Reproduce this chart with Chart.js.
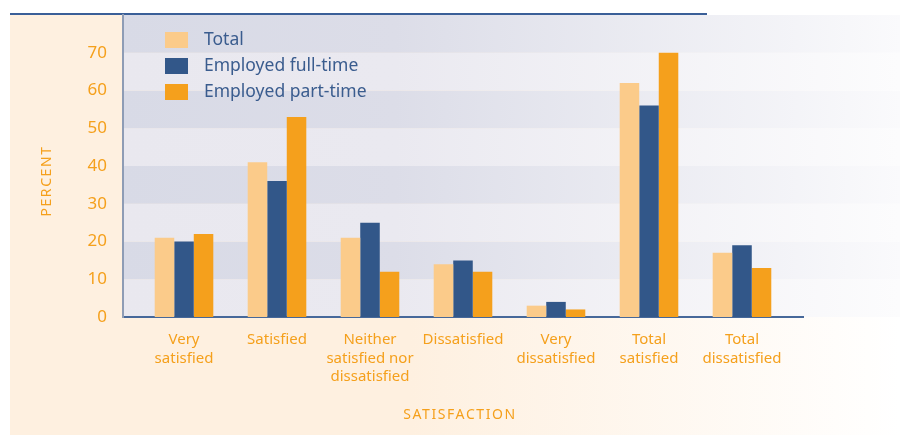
<!DOCTYPE html>
<html>
<head>
<meta charset="utf-8">
<script src="https://cdn.jsdelivr.net/npm/chart.js@4.4.1/dist/chart.umd.min.js"></script>
<style>
  html, body { margin: 0; padding: 0; background: #fff; }
  #wrap { width: 900px; height: 435px; }
</style>
</head>
<body>
<div id="wrap"><canvas id="c" width="900" height="435"></canvas></div>
<script>
// data
const categories = [
  ["Very", "satisfied"],
  "Satisfied",
  ["Neither", "satisfied nor", "dissatisfied"],
  "Dissatisfied",
  ["Very", "dissatisfied"],
  ["Total", "satisfied"],
  ["Total", "dissatisfied"]
];
const seriesNames = ["Total", "Employed full-time", "Employed part-time"];
const totalValues = [21, 41, 21, 14, 3, 62, 17];
const fullTimeValues = [20, 36, 25, 15, 4, 56, 19];
const partTimeValues = [22, 53, 12, 12, 2, 70, 13];
const yTicks = [0, 10, 20, 30, 40, 50, 60, 70];

const ORANGE = "#F5A01C";
const NAVY = "#3A5C8E";
const FONT = "'Noto Sans', sans-serif";

// background panels, bands, top rule, legend and axis titles
const decor = {
  id: "decor",
  beforeDraw(chart) {
    const { ctx, chartArea: a, width, height } = chart;
    const y = chart.scales.y;
    ctx.save();
    ctx.fillStyle = "#fff";
    ctx.fillRect(0, 0, width, height);

    // peach panel, fading out to the right
    let g = ctx.createLinearGradient(10, 0, width, 0);
    g.addColorStop(0, "#FEF0E0");
    g.addColorStop(0.45, "#FEF0E0");
    g.addColorStop(1, "#FFFFFF");
    ctx.fillStyle = g;
    ctx.fillRect(10, a.top, width - 10, height - a.top);

    // alternating bands behind the plot
    for (let v = 0; v < 80; v += 10) {
      const dark = (v / 10) % 2 === 1;
      const top = y.getPixelForValue(v + 10);
      const bot = y.getPixelForValue(v);
      g = ctx.createLinearGradient(a.left, 0, width, 0);
      g.addColorStop(0, dark ? "#D8DAE6" : "#E9E8EF");
      g.addColorStop(0.35, dark ? "#DCDDE8" : "#EAE9F0");
      g.addColorStop(1, dark ? "#FAFAFC" : "#FCFCFD");
      ctx.fillStyle = g;
      ctx.fillRect(a.left, top, width - a.left, bot - top);
    }

    // top rule
    ctx.strokeStyle = "#3A5F98";
    ctx.lineWidth = 2;
    ctx.beginPath();
    ctx.moveTo(10, a.top - 1);
    ctx.lineTo(707, a.top - 1);
    ctx.stroke();
    ctx.restore();
  },
  afterDraw(chart) {
    const { ctx, chartArea: a } = chart;
    ctx.save();
    // legend
    ctx.font = "17.5px " + FONT;
    ctx.textBaseline = "middle";
    chart.data.datasets.forEach((ds, i) => {
      const top = a.top + 17 + i * 26;
      ctx.fillStyle = ds.backgroundColor;
      ctx.fillRect(a.left + 42, top, 23, 16);
      ctx.fillStyle = NAVY;
      ctx.fillText(ds.label, a.left + 81, top + 8);
    });

    // axis titles
    ctx.fillStyle = ORANGE;
    ctx.font = "14px " + FONT;
    ctx.letterSpacing = "1.6px";
    ctx.textAlign = "center";
    ctx.fillText("SATISFACTION", 460, 415);
    ctx.translate(47, 181);
    ctx.rotate(-Math.PI / 2);
    ctx.fillText("PERCENT", 0, 0);
    ctx.restore();
  }
};

const toPoints = vals => vals.map((v, i) => ({ x: i, y: v }));

new Chart(document.getElementById("c"), {
  type: "bar",
  data: {
    datasets: [
      { label: seriesNames[0], data: toPoints(totalValues), backgroundColor: "#FBCB8A" },
      { label: seriesNames[1], data: toPoints(fullTimeValues), backgroundColor: "#325789" },
      { label: seriesNames[2], data: toPoints(partTimeValues), backgroundColor: "#F5A01C" }
    ]
  },
  options: {
    responsive: false,
    animation: false,
    layout: { padding: { top: 15, right: 97, bottom: 0, left: 0 } },
    datasets: { bar: { categoryPercentage: 0.63, barPercentage: 1.0 } },
    plugins: { legend: { display: false }, tooltip: { enabled: false } },
    scales: {
      x: {
        type: "linear",
        offset: false,
        min: -0.656,
        max: 6.656,
        afterBuildTicks: s => { s.ticks = categories.map((c, i) => ({ value: i })); },
        afterFit: s => { s.height = 118; s.paddingLeft = 0; s.paddingRight = 0; },
        grid: { display: false, drawTicks: false },
        border: { color: "#46689A", width: 2 },
        ticks: {
          autoSkip: false,
          maxRotation: 0,
          padding: 14,
          color: ORANGE,
          font: { family: FONT, size: 15, lineHeight: 1.22 },
          callback: v => categories[v]
        }
      },
      y: {
        min: 0,
        max: 80,
        afterBuildTicks: s => { s.ticks = yTicks.map(v => ({ value: v })); },
        afterFit: s => { s.width = 123; s.paddingTop = 0; s.paddingBottom = 0; },
        grid: { display: false, drawTicks: false },
        border: { color: "#8E9CB5", width: 2 },
        ticks: {
          padding: 16,
          color: ORANGE,
          font: { family: FONT, size: 17 }
        }
      }
    }
  },
  plugins: [decor]
});
</script>
</body>
</html>
